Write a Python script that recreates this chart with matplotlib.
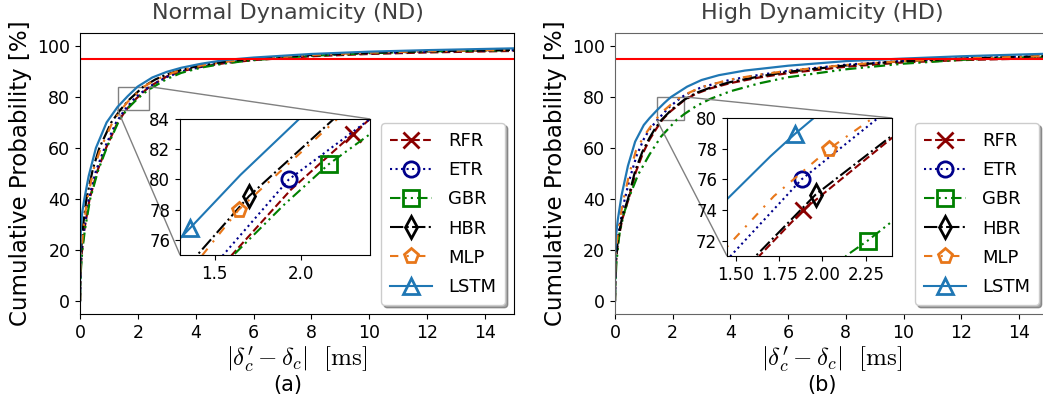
import matplotlib
matplotlib.use('Agg')
import matplotlib.pyplot as plt
from mpl_toolkits.axes_grid1.inset_locator import mark_inset

plt.rcParams['mathtext.fontset'] = 'cm'

models = ['RFR', 'ETR', 'GBR', 'HBR', 'MLP', 'LSTM']
colors = ['darkred', 'darkblue', 'green', 'black', '#e8771a', '#1f77b4']
styles = ['--', ':', (0, (5, 2, 1, 2, 1, 2)), '-.', (0, (4, 4, 1, 4)), '-']
markers = ['x', 'o', 's', 'd', 'p', '^']

# normal dynamicity (ND) CDFs, error in ms vs cumulative probability in %
nd_rfr_x = [0, 0.01, 0.03, 0.07, 0.15, 0.33, 0.6, 0.9, 1.3, 1.6, 1.94, 2.3, 2.4, 3, 3.5, 4.2, 5, 6, 8, 10, 12, 15]
nd_rfr_y = [0, 8, 14, 20, 28, 40, 51, 60, 70, 75, 79.3, 83, 84, 88, 90, 91.8, 93.2, 94.4, 95.9, 96.8, 97.4, 98]
nd_etr_x = [0, 0.01, 0.03, 0.06, 0.15, 0.3, 0.55, 0.85, 1.25, 1.55, 1.93, 2.4, 3, 3.5, 4.2, 5, 6, 8, 10, 12, 15]
nd_etr_y = [0, 9, 15, 20, 29, 40, 51, 60, 70, 75, 80, 84, 87.8, 89.9, 91.8, 93.4, 94.6, 96.2, 97.1, 97.7, 98.3]
nd_gbr_x = [0, 0.01, 0.03, 0.08, 0.17, 0.35, 0.62, 0.92, 1.32, 1.61, 1.9, 2.16, 2.4, 3, 3.5, 4.2, 5, 6, 8, 10, 12, 15]
nd_gbr_y = [0, 6, 12, 20, 28, 40, 51, 60, 70, 75, 78.3, 81, 83, 87, 89.4, 91.5, 93.1, 94.4, 96.1, 97.1, 97.8, 98.3]
nd_hbr_x = [0, 0.01, 0.02, 0.04, 0.1, 0.22, 0.45, 0.67, 1.08, 1.4, 1.7, 2.19, 2.6, 3, 3.5, 4.2, 5, 6, 8, 10, 12, 15]
nd_hbr_y = [0, 10, 15, 20, 29, 40, 52, 60, 70, 75, 78.9, 84, 86.8, 88.8, 90.6, 92.4, 93.8, 95, 96.4, 97.3, 97.9, 98.4]
nd_mlp_x = [0, 0.01, 0.02, 0.05, 0.12, 0.25, 0.48, 0.72, 1.12, 1.43, 1.64, 2.21, 2.6, 3, 3.5, 4.2, 5, 6, 8, 10, 12, 15]
nd_mlp_y = [0, 9, 14, 20, 29, 40, 52, 60, 70, 75, 78, 84, 86.6, 88.6, 90.5, 92.3, 93.7, 94.9, 96.4, 97.3, 97.9, 98.4]
nd_lstm_x = [0, 0.01, 0.03, 0.08, 0.15, 0.3, 0.55, 0.92, 1.3, 1.36, 1.65, 1.99, 2.5, 3, 3.5, 4.2, 5, 6, 8, 10, 12, 15]
nd_lstm_y = [0, 20, 29, 35, 40, 49, 60, 70, 76.1, 76.8, 80.3, 84, 87.6, 89.8, 91.4, 93, 94.4, 95.4, 96.8, 97.7, 98.3, 99]
nd_mark_x = [2.3, 1.93, 2.16, 1.7, 1.64, 1.36]

# high dynamicity (HD) CDFs
hd_rfr_x = [0, 0.01, 0.04, 0.1, 0.25, 0.47, 0.72, 0.97, 1.2, 1.42, 1.64, 1.89, 2.4, 2.8, 3.3, 4, 5, 6, 8, 10, 12, 15]
hd_rfr_y = [0, 7, 16, 23, 32, 40, 50.5, 58, 63.3, 67.3, 71.05, 74, 78.7, 81.2, 83.3, 85.4, 87.6, 89.3, 91.8, 93.5, 94.4, 95.2]
hd_etr_x = [0, 0.01, 0.04, 0.1, 0.3, 0.5, 0.75, 1.0, 1.2, 1.475, 1.88, 2.32, 2.6, 3, 4, 5, 6, 8, 10, 12, 15]
hd_etr_y = [0, 10, 18, 25, 38, 47.5, 57, 63.5, 67.3, 71.05, 76, 80, 81.7, 83.8, 86.7, 88.6, 90.2, 92.6, 94.1, 95.1, 96.1]
hd_gbr_x = [0, 0.02, 0.05, 0.15, 0.3, 0.5, 0.8, 1.2, 1.6, 2.14, 2.26, 2.4, 2.8, 3.3, 4, 5, 6, 8, 10, 12, 15]
hd_gbr_y = [0, 8, 15, 26, 34, 41, 49.5, 57.5, 64.5, 71.05, 72, 73.25, 76.3, 79.2, 82.2, 85.3, 87.7, 90.8, 93, 94.5, 95.8]
hd_hbr_x = [0, 0.01, 0.04, 0.1, 0.25, 0.45, 0.7, 0.95, 1.2, 1.4, 1.62, 1.96, 2.4, 2.8, 3.3, 4, 5, 6, 8, 10, 12, 15]
hd_hbr_y = [0, 8, 17, 24, 33, 40, 51, 58.5, 64, 67.8, 71.05, 75, 78.85, 81.5, 83.6, 85.8, 88, 89.8, 92.3, 94, 95, 96]
hd_mlp_x = [0, 0.01, 0.04, 0.1, 0.2, 0.3, 0.5, 0.73, 1.0, 1.2, 1.45, 1.72, 2.04, 2.29, 2.6, 3, 4, 5, 6, 8, 10, 12, 15]
hd_mlp_y = [0, 12, 20, 27, 34, 40, 50, 59, 64.5, 67.8, 71.6, 74.9, 78, 80, 81.8, 83.8, 86.8, 88.7, 90.2, 92.5, 94, 95, 96]
hd_lstm_x = [0, 0.01, 0.03, 0.1, 0.23, 0.45, 0.7, 1.0, 1.2, 1.45, 1.7, 1.84, 1.95, 2.5, 3, 3.6, 4.5, 6, 8, 10, 12, 15]
hd_lstm_y = [0, 18, 25, 32, 41.5, 53, 62.5, 69, 71.7, 74.7, 77.5, 78.95, 80, 84, 86.6, 88.5, 90.3, 92.2, 94, 95, 95.9, 96.9]
hd_mark_x = [1.89, 1.88, 2.26, 1.96, 2.04, 1.84]

threshold = 95

nd_data = [(nd_rfr_x, nd_rfr_y), (nd_etr_x, nd_etr_y), (nd_gbr_x, nd_gbr_y),
           (nd_hbr_x, nd_hbr_y), (nd_mlp_x, nd_mlp_y), (nd_lstm_x, nd_lstm_y)]
hd_data = [(hd_rfr_x, hd_rfr_y), (hd_etr_x, hd_etr_y), (hd_gbr_x, hd_gbr_y),
           (hd_hbr_x, hd_hbr_y), (hd_mlp_x, hd_mlp_y), (hd_lstm_x, hd_lstm_y)]

fig = plt.figure(figsize=(10.43, 4.18), dpi=100)


def draw_panel(rect, inset_rect, data, mark_x, zoom_x, zoom_y, zoom_xt, zoom_yt, title, tag, spine_col):
    ax = fig.add_axes(rect)
    for (x, y), c, ls in zip(data, colors, styles):
        ax.plot(x, y, color=c, linestyle=ls, lw=1.6)
    ax.axhline(threshold, color='red', lw=1.5)
    ax.set_xlim(0, 15)
    ax.set_ylim(-5, 105)
    ax.set_xticks(range(0, 15, 2))
    ax.set_yticks(range(0, 101, 20))
    ax.tick_params(labelsize=12.5)
    for s in ax.spines.values():
        s.set_color(spine_col)
    ax.set_ylabel('Cumulative Probability [%]', fontsize=16.5)
    ax.set_xlabel(r"$|\delta_c^{\prime} - \delta_c|\ \ [\mathrm{ms}]$", fontsize=18, labelpad=2)

    # zoomed view with one marker per model
    axins = fig.add_axes(inset_rect)
    handles = []
    for (x, y), c, ls, m, mx, name in zip(data, colors, styles, markers, mark_x, models):
        ln, = axins.plot(x, y, color=c, linestyle=ls, lw=1.5, marker=m,
                         markevery=[x.index(mx)], ms=11, mew=2, mfc='none', label=name)
        handles.append(ln)
    axins.set_xlim(*zoom_x)
    axins.set_ylim(*zoom_y)
    axins.set_xticks(zoom_xt)
    axins.set_yticks(zoom_yt)
    axins.tick_params(labelsize=12)
    mark_inset(ax, axins, loc1=1, loc2=3, fc='none', ec='0.5', lw=1)

    ax.legend(handles=handles, loc='lower right', fontsize=13, shadow=True,
              fancybox=True, framealpha=1, labelspacing=0.62, handlelength=2.3,
              handletextpad=0.9, borderpad=0.5)
    cx = rect[0] + rect[2] / 2
    fig.text(cx - 0.009, 0.968, title, ha='center', va='center', fontsize=16, color='#404040')
    fig.text(cx - 0.009, 0.079, tag, ha='center', va='center', fontsize=15)
    return ax


draw_panel([0.0767, 0.2488, 0.4161, 0.6722], [0.1726, 0.3900, 0.1822, 0.3254], nd_data, nd_mark_x,
           (1.3, 2.4), (75, 84), [1.5, 2.0], [76, 78, 80, 82, 84],
           'Normal Dynamicity (ND)', '(a)', 'black')
draw_panel([0.5896, 0.2488, 0.4151, 0.6722], [0.6970, 0.3876, 0.1582, 0.3301], hd_data, hd_mark_x,
           (1.45, 2.4), (71, 80), [1.5, 1.75, 2.0, 2.25], [72, 74, 76, 78, 80],
           'High Dynamicity (HD)', '(b)', '0.4')

fig.savefig('out.png', dpi=100)
